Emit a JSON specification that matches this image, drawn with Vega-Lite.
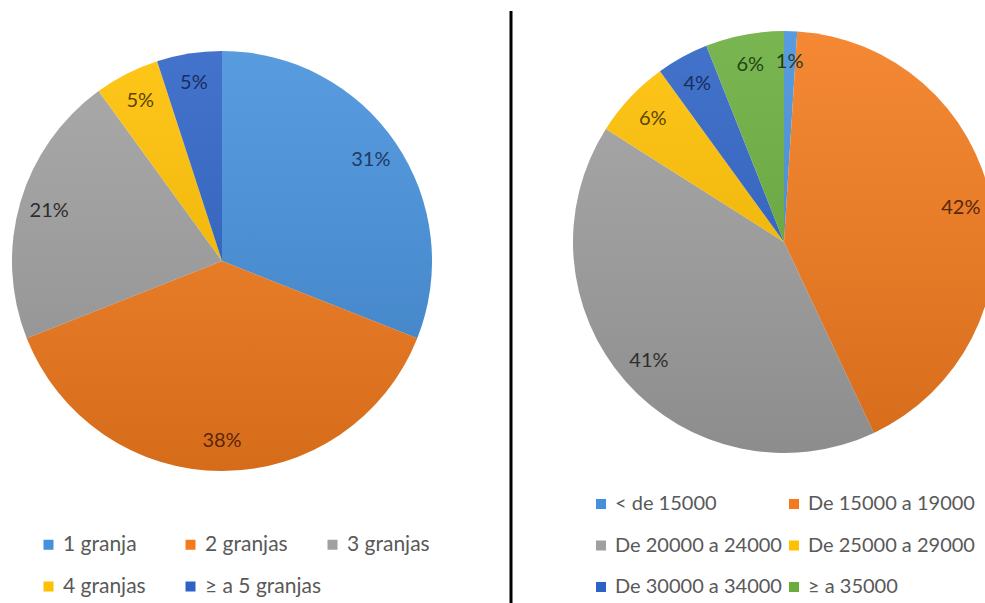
{
  "$schema": "https://vega.github.io/schema/vega-lite/v6.json",
  "background": "white",
  "padding": 0,
  "bounds": "flush",
  "spacing": 67,
  "config": {
    "view": {"stroke": null},
    "font": "Lato",
    "legend": {
      "orient": "none",
      "direction": "horizontal",
      "symbolType": "square",
      "symbolSize": 100,
      "symbolStrokeWidth": 0,
      "labelFontSize": 21,
      "labelColor": "#595959",
      "labelOffset": 4,
      "labelLimit": 400,
      "rowPadding": 20,
      "columnPadding": 0,
      "gridAlign": "all",
      "padding": 0
    }
  },
  "resolve": {
    "scale": {"color": "independent", "fill": "independent", "theta": "independent"},
    "legend": {"color": "independent"}
  },
  "hconcat": [
    {
      "width": 444,
      "height": 522,
      "data": {
        "values": [
          {"cat": "1 granja", "share": 0.31},
          {"cat": "2 granjas", "share": 0.38},
          {"cat": "3 granjas", "share": 0.21},
          {"cat": "4 granjas", "share": 0.05},
          {"cat": "≥ a 5 granjas", "share": 0.05}
        ]
      },
      "layer": [
        {
          "mark": {"type": "arc", "outerRadius": 210},
          "encoding": {
            "theta": {"field": "share", "type": "quantitative", "stack": true},
            "order": {"field": "cat"},
            "color": {
              "field": "cat",
              "type": "nominal",
              "scale": {
                "domain": ["1 granja", "2 granjas", "3 granjas", "4 granjas", "≥ a 5 granjas"],
                "range": ["#4590DB", "#F37B1D", "#A0A0A0", "#FFC000", "#2E63C6"]
              },
              "legend": {"title": null, "columns": 3, "legendX": 38, "legendY": 534}
            }
          }
        },
        {
          "data": {"values": [{"share": 1}]},
          "mark": {
            "type": "arc",
            "outerRadius": 210,
            "fill": {
              "gradient": "linear",
              "x1": 0, "y1": 0, "x2": 0, "y2": 1,
              "stops": [
                {"offset": 0, "color": "rgba(255,255,255,0.10)"},
                {"offset": 1, "color": "rgba(0,0,0,0.12)"}
              ]
            }
          },
          "encoding": {
            "theta": {"field": "share", "type": "quantitative", "stack": true}
          }
        },
        {
          "mark": {"type": "text", "radius": 180, "fontSize": 20},
          "encoding": {
            "theta": {"field": "share", "type": "quantitative", "stack": true},
            "order": {"field": "cat"},
            "text": {"field": "share", "type": "quantitative", "format": ".0%"},
            "fill": {
              "field": "cat",
              "type": "nominal",
              "scale": {
                "domain": ["1 granja", "2 granjas", "3 granjas", "4 granjas", "≥ a 5 granjas"],
                "range": ["#1F3A66", "#5A2608", "#2E2E2E", "#5A4508", "#152F5E"]
              },
              "legend": null
            }
          }
        }
      ]
    },
    {
      "width": 546,
      "height": 484,
      "data": {
        "values": [
          {"cat": "< de 15000", "share": 0.01},
          {"cat": "De 15000 a 19000", "share": 0.42},
          {"cat": "De 20000 a 24000", "share": 0.41},
          {"cat": "De 25000 a 29000", "share": 0.06},
          {"cat": "De 30000 a 34000", "share": 0.04},
          {"cat": "≥ a 35000", "share": 0.06}
        ]
      },
      "layer": [
        {
          "mark": {"type": "arc", "outerRadius": 211},
          "encoding": {
            "theta": {"field": "share", "type": "quantitative", "stack": true},
            "order": {"field": "cat"},
            "color": {
              "field": "cat",
              "type": "nominal",
              "scale": {
                "domain": ["< de 15000", "De 15000 a 19000", "De 20000 a 24000", "De 25000 a 29000", "De 30000 a 34000", "≥ a 35000"],
                "range": ["#4590DB", "#F37B1D", "#A0A0A0", "#FFC000", "#2E63C6", "#6AAD3D"]
              },
              "legend": {"title": null, "columns": 2, "legendX": 80, "legendY": 494, "labelFontSize": 20, "columnPadding": 2, "rowPadding": 21.5}
            }
          }
        },
        {
          "data": {"values": [{"share": 1}]},
          "mark": {
            "type": "arc",
            "outerRadius": 211,
            "fill": {
              "gradient": "linear",
              "x1": 0, "y1": 0, "x2": 0, "y2": 1,
              "stops": [
                {"offset": 0, "color": "rgba(255,255,255,0.10)"},
                {"offset": 1, "color": "rgba(0,0,0,0.12)"}
              ]
            }
          },
          "encoding": {
            "theta": {"field": "share", "type": "quantitative", "stack": true}
          }
        },
        {
          "mark": {"type": "text", "radius": 180, "fontSize": 20},
          "encoding": {
            "theta": {"field": "share", "type": "quantitative", "stack": true},
            "order": {"field": "cat"},
            "text": {"field": "share", "type": "quantitative", "format": ".0%"},
            "fill": {
              "field": "cat",
              "type": "nominal",
              "scale": {
                "domain": ["< de 15000", "De 15000 a 19000", "De 20000 a 24000", "De 25000 a 29000", "De 30000 a 34000", "≥ a 35000"],
                "range": ["#1F3A24", "#5A2608", "#2E2E2E", "#5A4508", "#152F5E", "#1E4712"]
              },
              "legend": null
            }
          }
        },
        {
          "data": {"values": [{"divider": "left"}]},
          "mark": {"type": "rule", "color": "black", "strokeWidth": 3},
          "encoding": {
            "x": {"value": 0},
            "y": {"value": 11},
            "y2": {"value": 603}
          }
        }
      ]
    }
  ]
}
